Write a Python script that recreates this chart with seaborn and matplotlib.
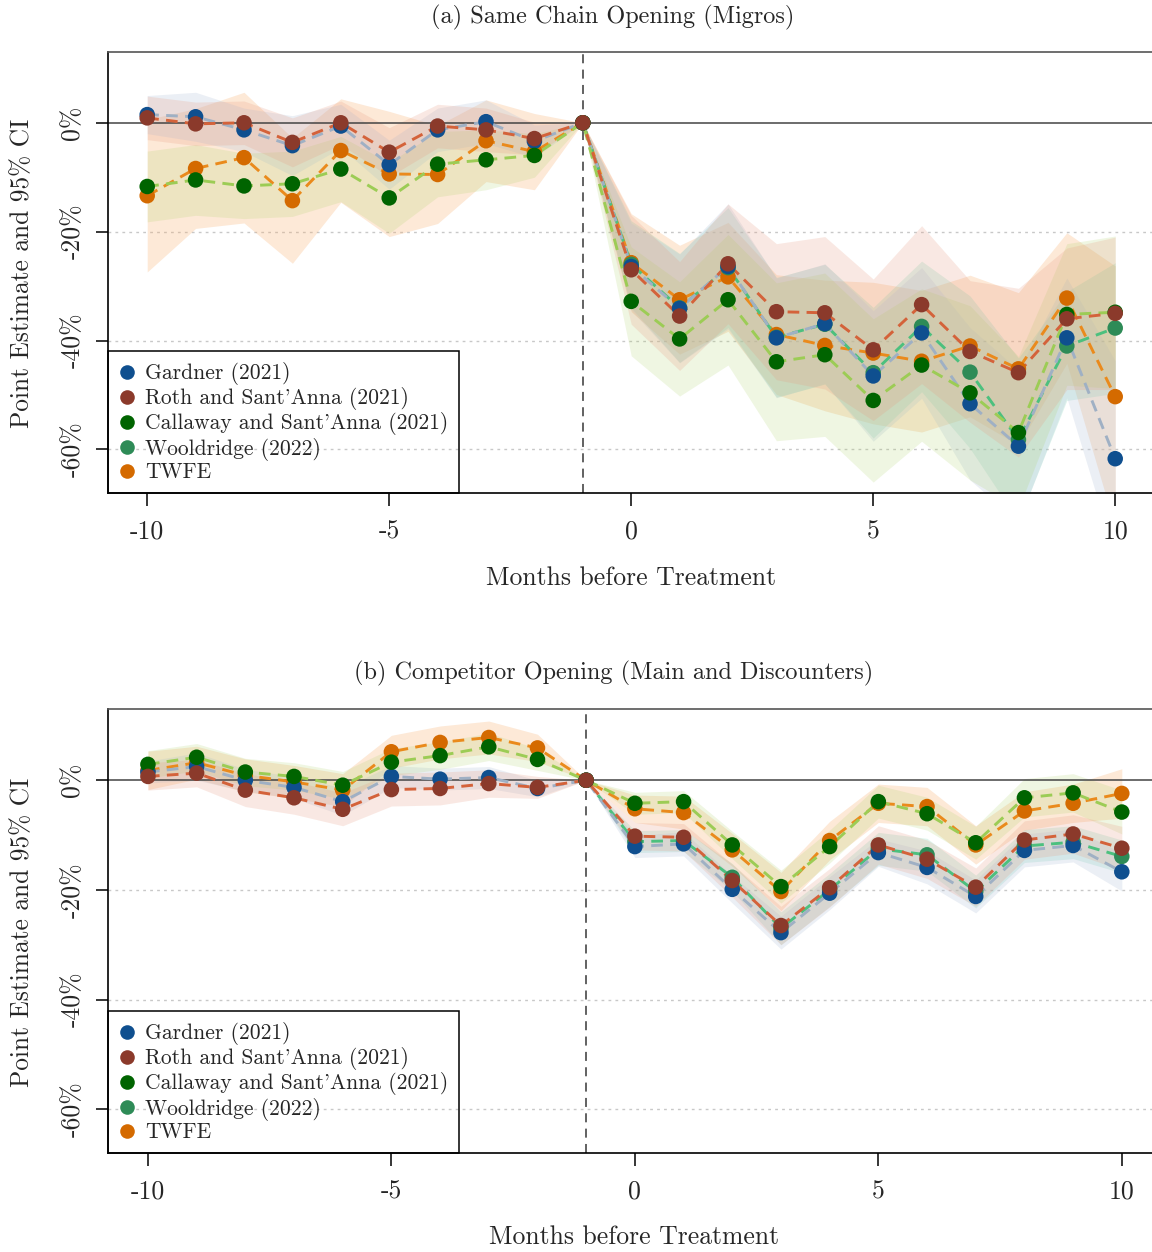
import numpy as np
import pandas as pd
import matplotlib
matplotlib.use("Agg")
import matplotlib.pyplot as plt
from matplotlib.lines import Line2D
import seaborn as sns

# event time
months = [-10, -9, -8, -7, -6, -5, -4, -3, -2, -1, 0, 1, 2, 3, 4, 5, 6, 7, 8, 9, 10]

estimators = ["Gardner (2021)", "Roth and Sant'Anna (2021)",
              "Callaway and Sant'Anna (2021)", "Wooldridge (2022)", "TWFE"]

nan = np.nan

# ---- panel (a): same chain opening, point estimates and CI half widths (%)
a_gardner = [1.5, 1.1, -1.3, -4.2, -0.6, -7.7, -1.3, 0.2, -3.4, 0,
             -26.4, -34.1, -26.4, -39.5, -36.9, -46.5, -38.6, -51.6, -59.4, -39.5, -61.7]
a_gardner_hw = [3.5, 4.5, 4, 5.5, 4, 4.5, 4, 4, 3, 0,
                8, 10, 11.5, 11, 11, 12, 12, 14, 14, 11, 18]
a_roth = [0.9, -0.2, 0, -3.6, 0, -5.4, -0.6, -1.3, -2.9, 0,
          -27.0, -35.5, -25.9, -34.7, -34.9, -41.7, -33.4, -42.0, -45.9, -36.0, -35.0]
a_roth_hw = [4, 4, 4, 4.5, 4, 4.5, 4, 4, 3, 0,
             10, 10, 11, 12.5, 14, 13, 14.5, 13, 15.5, 13, 14]
a_cs = [-11.7, -10.5, -11.6, -11.2, -8.5, -13.8, -7.6, -6.8, -6.0, 0,
        -32.8, -39.7, -32.5, -43.9, -42.6, -51.0, -44.5, -49.6, -56.9, -35.2, -34.8]
a_cs_hw = [6.5, 6.5, 6, 6, 6, 6.5, 6, 5.5, 4, 0,
           10, 10.5, 12, 14.5, 15, 15, 14, 16, 14, 13, 14]
a_wool = [nan, nan, nan, nan, nan, nan, nan, nan, nan, 0,
          -26.0, -34.0, -26.6, -39.4, -37.0, -45.9, -37.4, -45.8, -58.2, -41.0, -37.7]
a_wool_hw = [nan, nan, nan, nan, nan, nan, nan, nan, nan, 0,
             8, 10, 11, 11, 11, 12, 12, 14, 15, 10, 12]
a_twfe = [-13.4, -8.4, -6.4, -14.3, -5.1, -9.4, -9.5, -3.3, -5.3, 0,
          -25.7, -32.5, -28.3, -38.9, -40.9, -42.3, -43.8, -41.0, -45.2, -32.2, -50.3]
a_twfe_hw = [14, 11, 12, 11.5, 9.5, 11.5, 9, 7.5, 7, 0,
             9, 10, 10, 11, 12, 13, 13, 13, 14, 12, 24]

# ---- panel (b): competitor opening
b_gardner = [1.5, 2.5, 0, -1.3, -3.9, 0.7, 0.2, 0.5, -1.5, 0,
             -12.1, -11.6, -19.9, -27.8, -20.6, -13.2, -15.9, -21.2, -12.8, -11.9, -16.7]
b_gardner_hw = [2, 2.5, 2, 2, 2.5, 2, 2, 2, 1.5, 0,
                2, 2.2, 2.5, 3, 3, 2.5, 3, 3, 3, 3, 3.5]
b_roth = [0.7, 1.3, -1.8, -3.2, -5.3, -1.7, -1.5, -0.6, -1.3, 0,
          -10.2, -10.4, -18.3, -26.5, -19.6, -11.8, -14.4, -19.5, -10.9, -9.8, -12.4]
b_roth_hw = [2.5, 2.5, 3, 3, 3, 3, 3, 2.5, 2, 0,
             2.5, 2.5, 3, 3.5, 3.5, 3.5, 3.5, 3.5, 3.5, 3.5, 4]
b_cs = [2.9, 4.2, 1.5, 0.7, -0.9, 3.3, 4.5, 6.1, 3.8, 0,
        -4.2, -3.9, -11.8, -19.4, -12.1, -3.9, -6.1, -11.4, -3.2, -2.3, -5.8]
b_cs_hw = [2.5, 2.5, 2.5, 2.5, 2.5, 2.5, 2.5, 2.5, 2, 0,
           2, 2, 2.5, 3, 3, 3, 3, 3, 3.5, 3.5, 4]
b_wool = [nan, nan, nan, nan, nan, nan, nan, nan, nan, 0,
          -11.2, -11.0, -17.7, -27.0, -20.0, -12.5, -13.6, -20.3, -12.0, -11.3, -13.9]
b_wool_hw = [nan, nan, nan, nan, nan, nan, nan, nan, nan, 0,
             2, 2, 2.5, 3, 3, 3, 3, 3, 3, 3, 3]
b_twfe = [1.8, 3.2, 0.9, -0.3, -1.8, 5.2, 6.9, 7.8, 5.9, 0,
          -5.2, -5.9, -12.7, -20.3, -11.0, -4.2, -4.8, -11.8, -5.6, -4.2, -2.4]
b_twfe_hw = [3.5, 3, 3, 3, 3, 3, 3, 3, 2.5, 0,
             2.5, 3, 3, 3.5, 3.5, 3.5, 3.5, 3.5, 3.5, 3.5, 4.5]

marker_colors = {"Gardner (2021)": "#0f4f8f", "Roth and Sant'Anna (2021)": "#8b3a2b",
                 "Callaway and Sant'Anna (2021)": "#006400", "Wooldridge (2022)": "#2e8b57",
                 "TWFE": "#d46a00"}
line_colors = {"Gardner (2021)": "#9fb0c4", "Roth and Sant'Anna (2021)": "#d4623a",
               "Callaway and Sant'Anna (2021)": "#9ccc55", "Wooldridge (2022)": "#4cc07e",
               "TWFE": "#ea8a1c"}
band_colors = {"Gardner (2021)": ("#b8c6dc", 0.28), "Roth and Sant'Anna (2021)": ("#e89a80", 0.22),
               "Callaway and Sant'Anna (2021)": ("#a8d060", 0.18), "Wooldridge (2022)": ("#70d0b0", 0.22),
               "TWFE": ("#f8b070", 0.28)}

# drawing order (last on top)
draw_order = ["TWFE", "Wooldridge (2022)", "Gardner (2021)",
              "Callaway and Sant'Anna (2021)", "Roth and Sant'Anna (2021)"]


def make_frame(series):
    rows = []
    for name in draw_order:
        est, hw = series[name]
        for m, e, h in zip(months, est, hw):
            rows.append({"month": m, "estimator": name, "est": e, "lo": e - h, "hi": e + h})
    return pd.DataFrame(rows)


df_a = make_frame({"Gardner (2021)": (a_gardner, a_gardner_hw),
                   "Roth and Sant'Anna (2021)": (a_roth, a_roth_hw),
                   "Callaway and Sant'Anna (2021)": (a_cs, a_cs_hw),
                   "Wooldridge (2022)": (a_wool, a_wool_hw),
                   "TWFE": (a_twfe, a_twfe_hw)})
df_b = make_frame({"Gardner (2021)": (b_gardner, b_gardner_hw),
                   "Roth and Sant'Anna (2021)": (b_roth, b_roth_hw),
                   "Callaway and Sant'Anna (2021)": (b_cs, b_cs_hw),
                   "Wooldridge (2022)": (b_wool, b_wool_hw),
                   "TWFE": (b_twfe, b_twfe_hw)})

sns.set_theme(style="ticks")
plt.rcParams["font.family"] = ["cmr10", "DejaVu Serif"]
plt.rcParams["mathtext.fontset"] = "cm"
plt.rcParams["axes.formatter.use_mathtext"] = True
plt.rcParams["axes.unicode_minus"] = False


def draw_panel(ax, df, xlim):
    # confidence bands
    for name in draw_order:
        d = df[df.estimator == name].dropna()
        c, a = band_colors[name]
        ax.fill_between(d.month, d.lo, d.hi, color=c, alpha=a, linewidth=0, zorder=1)
    ax.axhline(0, color="#444444", lw=1.1, zorder=1.5)
    ax.axvline(-1, color="#555555", lw=1.3, ls=(0, (5, 3.5)), zorder=1.5)
    sns.lineplot(data=df.dropna(), x="month", y="est", hue="estimator", hue_order=draw_order,
                 palette=line_colors, estimator=None, legend=False, ax=ax,
                 linewidth=2.1, linestyle=(0, (4, 2.5)), zorder=2)
    sns.scatterplot(data=df.dropna(), x="month", y="est", hue="estimator", hue_order=draw_order,
                    palette=marker_colors, s=125, edgecolor="none", linewidth=0,
                    legend=False, ax=ax, zorder=3)
    ax.set_xlim(*xlim)
    ax.set_ylim(-68, 13)
    ax.set_xticks([-10, -5, 0, 5, 10])
    ax.set_xticklabels(["-10", "-5", "0", "5", "10"], fontsize=18.5)
    ax.set_yticks([0, -20, -40, -60])
    ax.set_yticklabels(["0%", "-20%", "-40%", "-60%"], fontsize=18.5, rotation=90, va="center")
    for yv in [-20, -40, -60]:
        ax.axhline(yv, color="#c8c8c8", lw=1.0, ls=(0, (2, 3)), zorder=0.5)
    ax.tick_params(axis="both", direction="out", length=9, width=1.1, color="black")
    ax.tick_params(axis="x", pad=10)
    ax.tick_params(axis="y", pad=8)
    ax.set_xlabel("")
    ax.set_ylabel("")
    ax.spines["right"].set_visible(False)
    ax.spines["top"].set_color("#555555")
    for s in ["left", "bottom"]:
        ax.spines[s].set_color("black")
    for s in ["left", "bottom", "top"]:
        ax.spines[s].set_linewidth(1.2)
    legend_order = ["Gardner (2021)", "Roth and Sant'Anna (2021)",
                    "Callaway and Sant'Anna (2021)", "Wooldridge (2022)", "TWFE"]
    handles = [Line2D([], [], marker="o", linestyle="", markersize=10.5,
                      markerfacecolor=marker_colors[n], markeredgecolor="none")
               for n in legend_order]
    leg = ax.legend(handles, legend_order, loc="lower left", bbox_to_anchor=(0, 0),
                    borderaxespad=0, frameon=True, fancybox=False,
                    fontsize=15.5, handletextpad=0.42, labelspacing=0.1,
                    borderpad=0.5, handlelength=0.8)
    frame = leg.get_frame()
    frame.set_facecolor("none")
    frame.set_edgecolor("black")
    frame.set_alpha(None)
    frame.set_linewidth(1.1)


fig = plt.figure(figsize=(11.52, 12.52), dpi=100)
ax_a = fig.add_axes([108 / 1152, 1 - 493 / 1252, 1 - 108 / 1152, (493 - 52) / 1252])
ax_b = fig.add_axes([108 / 1152, 1 - 1153 / 1252, 1 - 108 / 1152, (1153 - 709) / 1252])

draw_panel(ax_a, df_a, (-10.81, 10.76))
draw_panel(ax_b, df_b, (-10.82, 10.62))

fig.text(613 / 1152, 1 - 17 / 1252, "(a) Same Chain Opening (Migros)", ha="center", va="center", fontsize=17.5)
fig.text(614 / 1152, 1 - 673 / 1252, "(b) Competitor Opening (Main and Discounters)", ha="center", va="center", fontsize=17.5)
fig.text(631 / 1152, 1 - 578 / 1252, "Months before Treatment", ha="center", va="center", fontsize=18.5)
fig.text(634 / 1152, 1 - 1237 / 1252, "Months before Treatment", ha="center", va="center", fontsize=18.5)
fig.text(22 / 1152, 1 - 273 / 1252, "Point Estimate and 95% CI", ha="center", va="center", rotation=90, fontsize=18.3)
fig.text(22 / 1152, 1 - 932 / 1252, "Point Estimate and 95% CI", ha="center", va="center", rotation=90, fontsize=18.3)

fig.savefig("out.png", dpi=100)
